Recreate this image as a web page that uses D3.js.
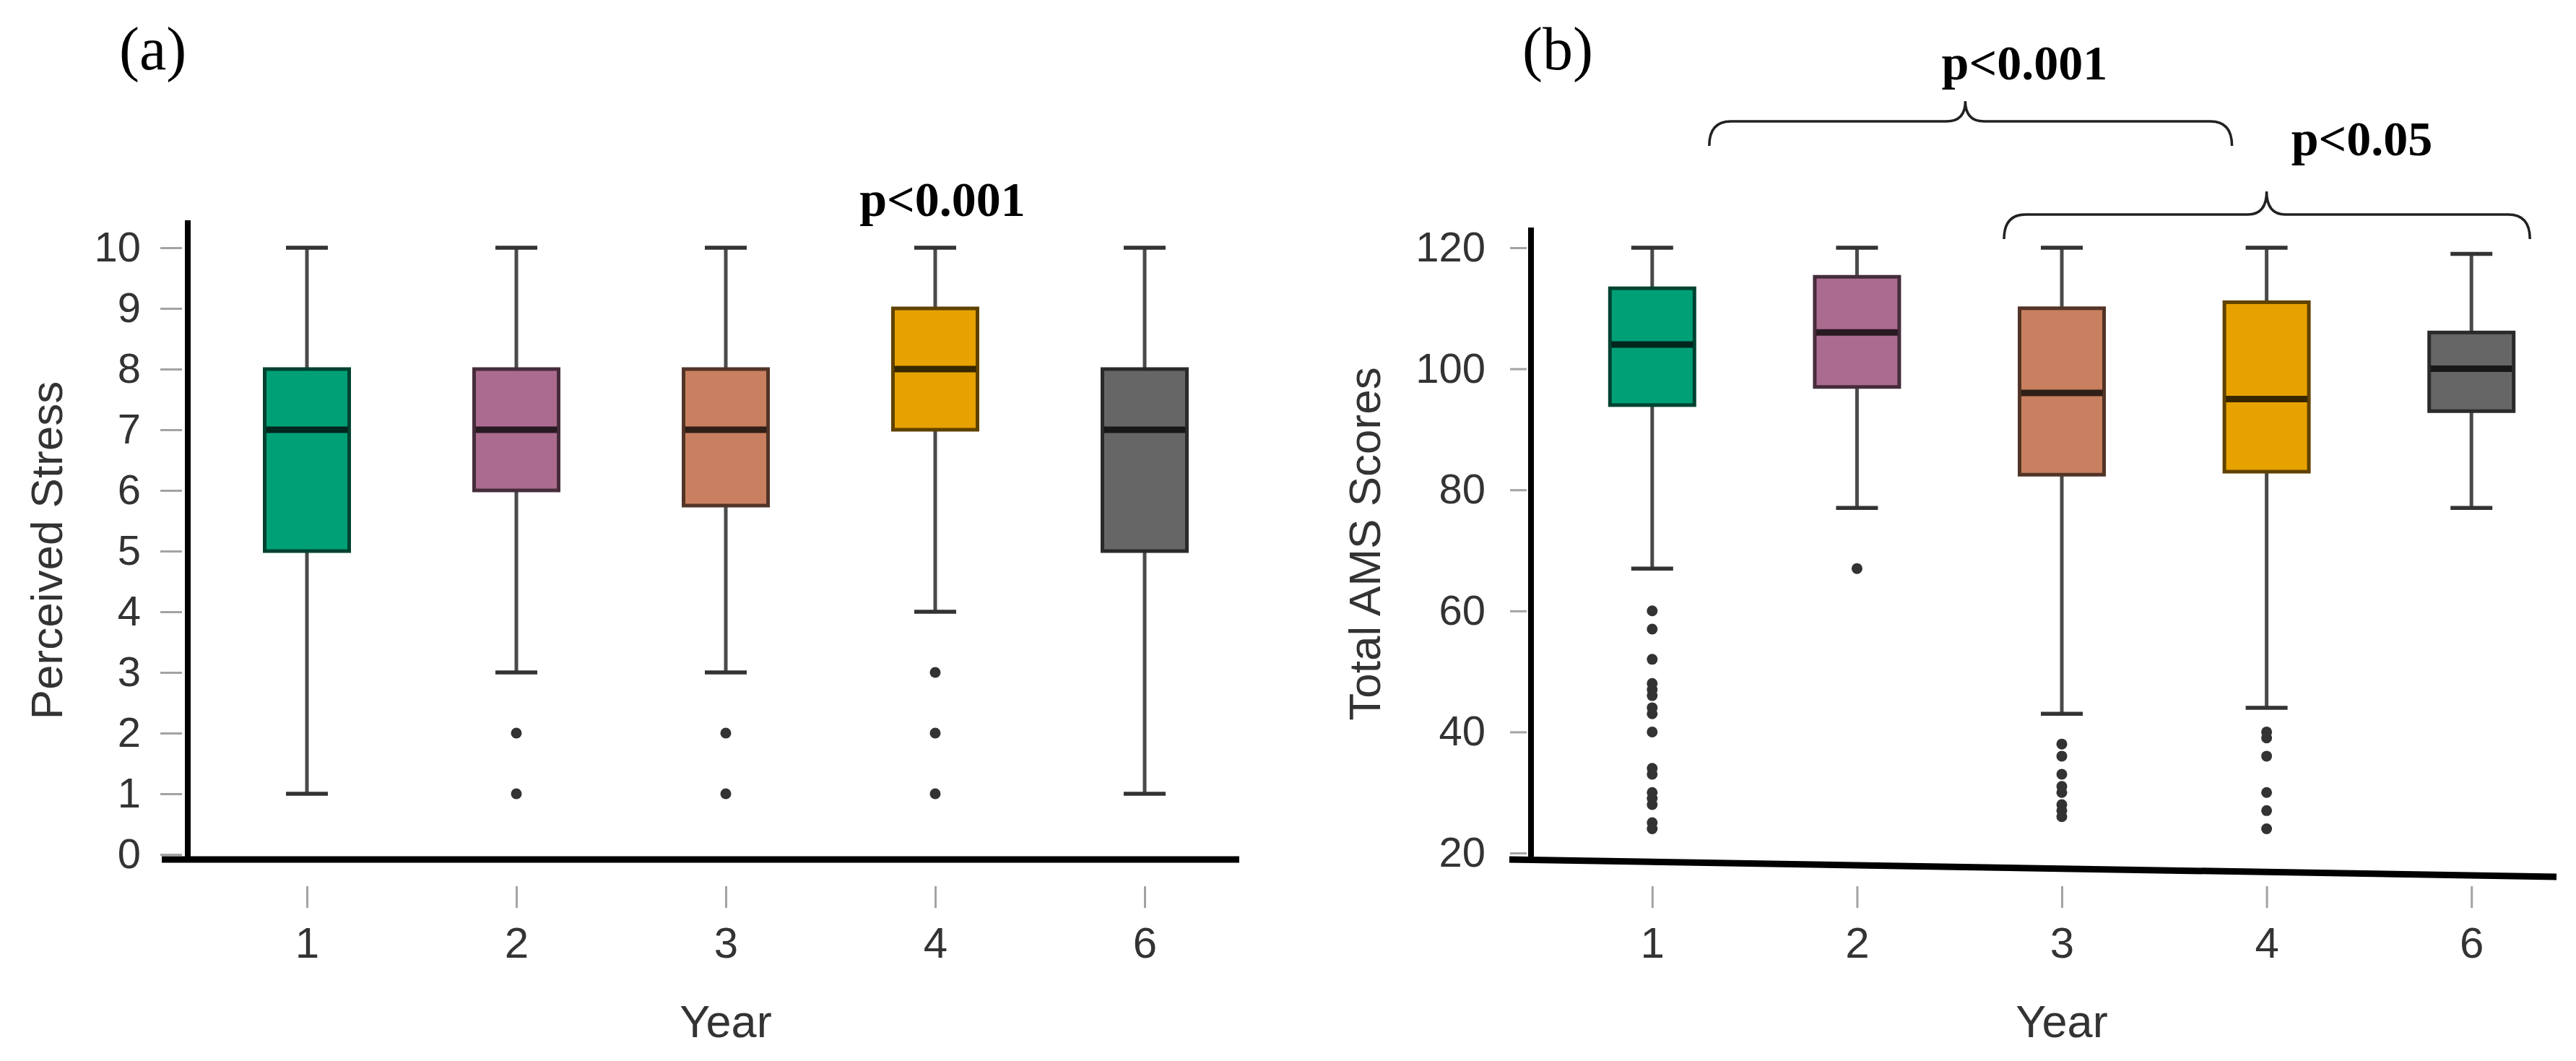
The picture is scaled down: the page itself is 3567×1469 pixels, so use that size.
<!DOCTYPE html>
<html>
<head>
<meta charset="utf-8">
<script src="https://cdn.jsdelivr.net/npm/d3@7"></script>
<style>
  body { margin: 0; background: #fff; }
  svg { display: block; }
  .tick text { font-family: "Liberation Sans", Arial, sans-serif; fill: #333; }
</style>
</head>
<body>
<svg id="chart" width="3567" height="1469"></svg>
<script>
// years on the x axis (same for both panels)
const years = ["1", "2", "3", "4", "6"];
const boxColors = ["#00a077", "#ab6b8f", "#c98060", "#e7a200", "#666666"];

// (a) perceived stress
const stressTicks = [0, 1, 2, 3, 4, 5, 6, 7, 8, 9, 10];
const stressMin = [1, 3, 3, 4, 1];
const stressQ1 = [5, 6, 5.75, 7, 5];
const stressMedian = [7, 7, 7, 8, 7];
const stressQ3 = [8, 8, 8, 9, 8];
const stressMax = [10, 10, 10, 10, 10];
const stressOutliers = [[], [2, 1], [2, 1], [3, 2, 1], []];

// (b) total AMS scores
const amsTicks = [20, 40, 60, 80, 100, 120];
const amsMin = [67, 77, 43, 44, 77];
const amsQ1 = [94, 97, 82.5, 83, 93];
const amsMedian = [104, 106, 96, 95, 100];
const amsQ3 = [113.3, 115.2, 110, 111, 106];
const amsMax = [120, 120, 120, 120, 119];
const amsOutliers = [
  [60, 57, 52, 48, 47, 46, 44, 43, 40, 34, 33, 30, 29, 28, 25, 24],
  [67],
  [38, 36, 33, 31, 30, 28, 27, 26],
  [40, 39, 36, 30, 27, 24],
  []
];

const svg = d3.select("#chart");
const sans = '"Liberation Sans", Arial, sans-serif';
const serif = '"Liberation Serif", "Times New Roman", serif';

function panel(opt) {
  const g = svg.append("g");
  const x = d3.scalePoint().domain(years).range(opt.xRange).padding(0.5);
  const y = d3.scaleLinear().domain(opt.yDomain).range(opt.yRange);

  // y ticks + labels
  const ya = g.append("g")
    .attr("transform", `translate(${opt.yTickX},0)`)
    .call(d3.axisLeft(y).tickValues(opt.ticks).tickSize(opt.tickLen).tickPadding(opt.tickPad));
  ya.select(".domain").remove();
  ya.selectAll(".tick line").attr("stroke", "#a3a3a3").attr("stroke-width", 3);
  ya.selectAll(".tick text").attr("font-size", 58);

  // x ticks + labels (detached from the axis line)
  const xa = g.append("g")
    .attr("transform", "translate(0,1227)")
    .call(d3.axisBottom(x).tickSize(30).tickPadding(26));
  xa.select(".domain").remove();
  xa.selectAll(".tick line").attr("stroke", "#a3a3a3").attr("stroke-width", 3);
  xa.selectAll(".tick text").attr("font-size", 60);

  // thick black axis lines
  g.append("line")
    .attr("x1", opt.axisX).attr("x2", opt.axisX)
    .attr("y1", opt.axisTop).attr("y2", opt.xAxis[1] + 4)
    .attr("stroke", "#000").attr("stroke-width", 8);
  g.append("line")
    .attr("x1", opt.xAxis[0]).attr("y1", opt.xAxis[1])
    .attr("x2", opt.xAxis[2]).attr("y2", opt.xAxis[3])
    .attr("stroke", "#000").attr("stroke-width", 9);

  const bw = 117, cap = 58;
  const boxes = g.selectAll("g.box").data(years).join("g").attr("class", "box");
  boxes.each(function (yr, i) {
    const b = d3.select(this);
    const cx = x(yr);
    const fill = d3.color(boxColors[i]);
    // whisker
    b.append("line").attr("x1", cx).attr("x2", cx)
      .attr("y1", y(opt.max[i])).attr("y2", y(opt.min[i]))
      .attr("stroke", "#4a4a4a").attr("stroke-width", 5);
    [opt.max[i], opt.min[i]].forEach(v => {
      b.append("line").attr("x1", cx - cap / 2).attr("x2", cx + cap / 2)
        .attr("y1", y(v)).attr("y2", y(v))
        .attr("stroke", "#333").attr("stroke-width", 5.5);
    });
    // box
    b.append("rect")
      .attr("x", cx - bw / 2).attr("width", bw)
      .attr("y", y(opt.q3[i])).attr("height", y(opt.q1[i]) - y(opt.q3[i]))
      .attr("fill", fill.formatHex())
      .attr("stroke", fill.darker(2.5).formatHex()).attr("stroke-width", 5);
    b.append("line")
      .attr("x1", cx - bw / 2 + 2).attr("x2", cx + bw / 2 - 2)
      .attr("y1", y(opt.median[i])).attr("y2", y(opt.median[i]))
      .attr("stroke", fill.darker(4).formatHex()).attr("stroke-width", 9);
    // outliers
    b.selectAll("circle").data(opt.outliers[i]).join("circle")
      .attr("cx", cx).attr("cy", d => y(d)).attr("r", 7.5).attr("fill", "#333");
  });

  // axis titles
  g.append("text")
    .attr("transform", `translate(${opt.titleX},${opt.titleY}) rotate(-90)`)
    .attr("text-anchor", "middle").attr("dominant-baseline", "central")
    .attr("font-family", sans).attr("font-size", 62).attr("fill", "#333")
    .text(opt.yTitle);
  g.append("text")
    .attr("x", x("3")).attr("y", 1436)
    .attr("text-anchor", "middle")
    .attr("font-family", sans).attr("font-size", 63).attr("fill", "#333")
    .text("Year");

  // panel letter
  g.append("text")
    .attr("x", opt.letterX).attr("y", 96)
    .attr("font-family", serif).attr("font-size", 84).attr("fill", "#000")
    .text(opt.letter);

  return { g, x, y };
}

const a = panel({
  xRange: [280, 1730], yDomain: [0, 10], yRange: [1183, 343],
  ticks: stressTicks, yTickX: 252, tickLen: 30, tickPad: 27,
  axisX: 260, axisTop: 305, xAxis: [224, 1190, 1716, 1190],
  min: stressMin, q1: stressQ1, median: stressMedian, q3: stressQ3, max: stressMax,
  outliers: stressOutliers,
  titleX: 64, titleY: 762, yTitle: "Perceived Stress",
  letterX: 165, letter: "(a)"
});

const b = panel({
  xRange: [2146, 3564], yDomain: [20, 120], yRange: [1181, 343],
  ticks: amsTicks, yTickX: 2114, tickLen: 23, tickPad: 34,
  axisX: 2120, axisTop: 315, xAxis: [2090, 1190, 3540, 1214],
  min: amsMin, q1: amsQ1, median: amsMedian, q3: amsQ3, max: amsMax,
  outliers: amsOutliers,
  titleX: 1889, titleY: 753, yTitle: "Total AMS Scores",
  letterX: 2108, letter: "(b)"
});

// significance labels
function pLabel(g, cx, baseline, txt) {
  g.append("text")
    .attr("x", cx).attr("y", baseline).attr("text-anchor", "middle")
    .attr("font-family", serif).attr("font-weight", "bold")
    .attr("font-size", 68).attr("fill", "#000")
    .text(txt);
}

// horizontal curly brace, cusp pointing up
function brace(g, x1, x2, xm, yl, depth, cusp) {
  const r = 30, c = 26;
  const p = d3.path();
  p.moveTo(x1, yl + depth);
  p.quadraticCurveTo(x1, yl, x1 + r, yl);
  p.lineTo(xm - c, yl);
  p.quadraticCurveTo(xm, yl, xm, yl - cusp);
  p.quadraticCurveTo(xm, yl, xm + c, yl);
  p.lineTo(x2 - r, yl);
  p.quadraticCurveTo(x2, yl, x2, yl + depth);
  g.append("path").attr("d", p.toString())
    .attr("fill", "none").attr("stroke", "#222").attr("stroke-width", 3.5);
}

pLabel(a.g, a.x("4") + 10, 299, "p<0.001");

brace(b.g, b.x("1") + 79, b.x("4") - 48, b.x("2") + 150, 168, 34, 28);
pLabel(b.g, b.x("2") + 232, 110, "p<0.001");

brace(b.g, b.x("3") - 80, b.x("6") + 81, b.x("4"), 297, 34, 32);
pLabel(b.g, b.x("4") + 132, 215, "p<0.05");
</script>
</body>
</html>
